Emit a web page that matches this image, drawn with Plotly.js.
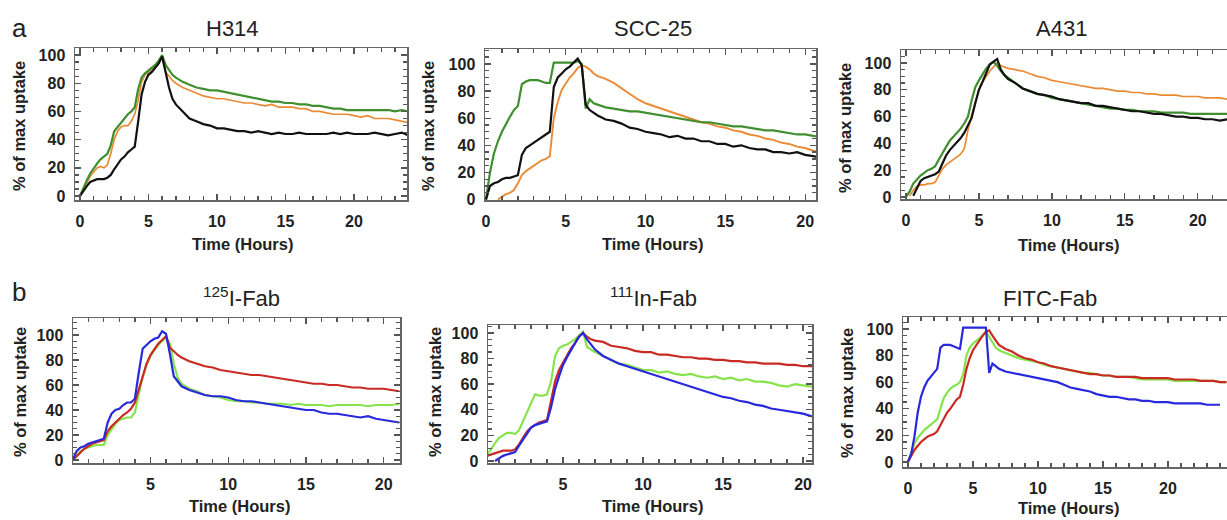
<!DOCTYPE html>
<html>
<head>
<meta charset="utf-8">
<script src="https://cdn.plot.ly/plotly-3.0.1.min.js"></script>
<style>html,body{margin:0;padding:0;background:#fff}#chart{width:1227px;height:520px}</style>
</head>
<body>
<div id="chart"></div>
<script>
// ---------- time grids (hours) ----------
const tH314 = [0,0.25,0.5,0.75,1,1.25,1.5,1.75,2,2.25,2.5,2.75,3,3.25,3.5,3.75,4,4.25,4.5,4.75,5,5.25,5.5,5.75,6,6.25,6.5,6.75,7,
  7.5,8,8.5,9,9.5,10,10.5,11,11.5,12,12.5,13,13.5,14,14.5,15,15.5,16,16.5,17,17.5,18,18.5,19,19.5,20,20.5,21,21.5,22,22.5,23,23.5,24];
const tSCC = [0,0.25,0.5,0.75,1,1.25,1.5,1.75,2,2.25,2.5,2.75,3,3.25,3.5,3.75,4,4.25,4.5,4.75,5,5.25,5.5,5.75,6,6.25,6.5,6.75,7,
  7.5,8,8.5,9,9.5,10,10.5,11,11.5,12,12.5,13,13.5,14,14.5,15,15.5,16,16.5,17,17.5,18,18.5,19,19.5,20,20.5,21];
const tA431 = [0,0.25,0.5,0.75,1,1.25,1.5,1.75,2,2.25,2.5,2.75,3,3.25,3.5,3.75,4,4.25,4.5,4.75,5,5.25,5.5,5.75,6,6.25,6.5,6.75,7,
  7.5,8,8.5,9,9.5,10,10.5,11,11.5,12,12.5,13,13.5,14,14.5,15,15.5,16,16.5,17,17.5,18,18.5,19,19.5,20,20.5,21,21.5,22,22.5];
const tI125 = [0,0.25,0.5,0.75,1,1.25,1.5,1.75,2,2.25,2.5,2.75,3,3.25,3.5,3.75,4,4.25,4.5,4.75,5,5.25,5.5,5.75,6,6.25,6.5,6.75,7,
  7.5,8,8.5,9,9.5,10,10.5,11,11.5,12,12.5,13,13.5,14,14.5,15,15.5,16,16.5,17,17.5,18,18.5,19,19.5,20,20.5,21];
const tIn111 = [0,0.25,0.5,0.75,1,1.25,1.5,1.75,2,2.25,2.5,2.75,3,3.25,3.5,3.75,4,4.25,4.5,4.75,5,5.25,5.5,5.75,6,6.25,6.5,6.75,7,
  7.5,8,8.5,9,9.5,10,10.5,11,11.5,12,12.5,13,13.5,14,14.5,15,15.5,16,16.5,17,17.5,18,18.5,19,19.5,20,20.5,21];
const tFITC = [0,0.25,0.5,0.75,1,1.25,1.5,1.75,2,2.25,2.5,2.75,3,3.25,3.5,3.75,4,4.25,4.5,4.75,5,5.25,5.5,5.75,6,6.25,6.5,6.75,7,
  7.5,8,8.5,9,9.5,10,10.5,11,11.5,12,12.5,13,13.5,14,14.5,15,15.5,16,16.5,17,17.5,18,18.5,19,19.5,20,20.5,21,21.5,22,22.5,23,23.5,24,24.5];

// ---------- panel a: H314 ----------
const h314Orange = [0,5,9,14,17,20,21,20,22,30,40,46,49,50,50,53,58,68,81,86,88,90,93,96,99,88,85,82,80,
  77,75,73,71,70,69,69,68,67,66, 66,65,64,65,63,63,63,62,62,60, 60,59,58,58,58,57,56,57,55,55, 55,54,53,52];
const h314Green = [0,6,11,16,20,23,26,28,30,36,46,49,52,55,58,60,63,76,84,87,89,91,93,96,100,93,89,86,84,
  81,79,77,76,75,75,74,73,72,71, 70,69,68,67,67,66,66,65,65,64, 64,63,62,62,61,61,61,61,61,61, 61,60,61,60];
const h314Black = [0,4,7,10,11,12,12,12,13,15,19,23,26,28,31,33,35,53,72,81,86,88,91,94,99,88,77,69,65,
  60,55,53,51,50,48,48,47,46,46, 45,46,45,44,45,44,44,45,44,44, 44,44,45,44,45,44,44,44,45,44, 43,44,45,43];

// ---------- panel a: SCC-25 ----------
const sccOrange = [null,null,null,0,2,4,5,7,12,18,21,23,25,27,29,30,32,60,72,81,86,90,93,97,99,98,96,93,91,
  89,86,82,78,74,71,69,67,65,63, 61,59,57,56,54,53,51,50,48,47, 45,44,42,41,39,38,36,35];
const sccGreen = [0,20,34,43,50,56,61,66,69,85,87,88,88,88,87,86,86,101,101,101,101,101,101,102,100,67,74,71,70,
  68,67,66,65,65,64,63,62,61,60, 59,58,57,57,56,55,54,54,53,52, 51,51,50,49,48,48,47,46];
const sccBlack = [0,10,12,13,15,16,16,17,18,33,38,40,42,44,46,48,50,83,90,93,96,98,101,104,99,70,66,64,62,
  59,58,56,53,52,50,49,48,46,47, 45,45,43,43,41,41,39,40,38,37, 37,35,35,34,35,33,32,31];

// ---------- panel a: A431 ----------
const a431Orange = [null,1,5,8,9,9,10,10,11,16,21,24,26,28,30,32,36,50,61,71,80,86,90,94,97,100,98,97,96,
  95,94,92,90,89,87,86,85,84,83, 82,81,81,80,79,79,78,78,77,77, 76,76,76,75,75,75,74,74,74,73, 73];
const a431Green = [0,4,10,13,16,18,20,21,23,28,33,38,42,45,48,51,55,60,72,82,87,92,96,99,101,98,94,91,89,
  85,81,79,77,76,74,73,72,71,70, 69,68,67,66,66,65,65,64,64,64, 63,63,63,63,62,62,62,62,62,62, 62];
const a431Black = [null,null,1,7,12,14,15,16,17,19,25,31,35,38,41,44,48,53,59,70,80,86,92,99,101,103,95,91,88,
  85,81,79,77,76,75,73,72,71,70, 70,68,68,67,66,65,64,64,63,62, 62,61,60,60,59,59,58,58,57,58, 57];

// ---------- panel b: 125I-Fab ----------
const i125Green = [0,3,7,9,10,11,12,12,12,20,25,29,32,33,34,34,38,53,66,76,83,88,92,95,98,93,77,66,61,
  57,55,52,51,50,48,47,47,46,46, 45,45,45,44,45,44,44,44,43,44, 44,44,44,43,44,44,44,45];
const i125Red = [0,3,6,9,11,13,14,15,16,23,27,30,33,36,38,41,46,56,68,77,84,89,93,96,99,90,87,84,82,
  79,77,75,74,72,71,70,69,68,68, 67,66,65,64,63,62,61,61,60,60, 59,58,58,57,57,57,56,55];
const i125Blue = [0,7,10,11,13,14,15,16,17,30,37,40,41,44,46,46,49,70,89,92,95,97,98,103,101,85,67,63,59,
  56,54,52,51,51,50,48,47,47,46, 45,44,43,42,41,40,40,38,37,37, 36,35,34,35,33,32,31,30];

// ---------- panel b: 111In-Fab ----------
const in111Green = [null,5,9,14,18,20,22,22,21,24,31,37,45,52,51,51,52,62,82,88,90,91,93,95,98,101,89,87,85,
  82,79,76,75,73,71,71,69,70,68, 67,68,66,65,66,64,65,63,64,62, 62,61,59,58,60,59,58,59];
const in111Red = [null,4,5,6,7,8,8,8,9,13,18,23,26,28,30,31,32,47,62,71,77,83,88,92,97,100,97,95,94,
  93,90,89,88,86,85,85,83,83,82, 81,81,80,80,79,79,78,78,77,77, 76,76,76,75,75,74,74,74];
const in111Blue = [null,null,null,0,2,4,5,6,7,12,17,22,26,28,29,30,31,42,56,66,75,81,87,92,97,100,95,91,87,
  82,79,76,74,72,70,68,66,64,62, 60,58,56,54,52,50,49,47,46,44, 43,41,40,39,38,37,35,34];

// ---------- panel b: FITC-Fab ----------
const fitcGreen = [0,7,14,18,21,24,26,28,30,32,40,48,52,55,57,58,60,66,80,86,89,91,93,95,98,94,90,86,84,
  82,80,78,77,76,75,73,72,71,70, 69,68,67,67,66,65,65,64,64,64, 63,62,62,62,62,62,61,61,61,61, 61,61,61,60,60];
const fitcRed = [0,5,9,12,15,17,19,20,21,23,28,33,37,40,44,47,49,58,70,78,84,88,92,95,98,99,95,91,88,
  85,83,80,78,77,75,74,72,71,70, 69,68,67,66,66,65,65,64,64,64, 64,63,63,63,63,63,62,62,62,62, 61,61,61,60,60];
const fitcBlue = [0,6,19,37,49,56,61,64,67,70,86,88,88,88,87,86,85,101,101,101,101,101,101,101,101,67,74,72,70,
  68,67,66,65,64,63,62,61,60,58, 56,55,54,53,51,50,49,49,48,47, 47,46,46,45,45,45,44,44,44,44, 44,43,43,43,null];

// ---------- labels ----------
const panelTitles = ['H314','SCC-25','A431','<sup>125</sup>I-Fab','<sup>111</sup>In-Fab','FITC-Fab'];
const rowLetters = ['a','b'];
const xTitle = 'Time (Hours)';
const yTitle = '% of max uptake';

// ---------- styles ----------
const C = {green:'#3f8f2f', orange:'#ea8a34', black:'#111111', red:'#c92a24', lgreen:'#86e44a', blue:'#2828dc'};
const FONT = '"Liberation Sans", Arial, sans-serif';
const W = 1227, H = 520;

function line(x, y, color, ax, width) {
  return {x:x, y:y, type:'scatter', mode:'lines', xaxis:'x'+ax, yaxis:'y'+ax,
          line:{color:color, width:width||2.2}, connectgaps:false, hoverinfo:'skip', showlegend:false};
}

const traces = [
  line(tH314, h314Orange, C.orange, '', 1.7), line(tH314, h314Green, C.green, ''), line(tH314, h314Black, C.black, ''),
  line(tSCC, sccOrange, C.orange, '2', 1.9), line(tSCC, sccGreen, C.green, '2'), line(tSCC, sccBlack, C.black, '2'),
  line(tA431, a431Orange, C.orange, '3', 1.7), line(tA431, a431Green, C.green, '3'), line(tA431, a431Black, C.black, '3'),
  line(tI125, i125Green, C.lgreen, '4'), line(tI125, i125Red, C.red, '4'), line(tI125, i125Blue, C.blue, '4'),
  line(tIn111, in111Green, C.lgreen, '5'), line(tIn111, in111Red, C.red, '5'), line(tIn111, in111Blue, C.blue, '5'),
  line(tFITC, fitcGreen, C.lgreen, '6'), line(tFITC, fitcRed, C.red, '6'), line(tFITC, fitcBlue, C.blue, '6')
];

// plot boxes in pixels: [left, right, top, bottom], with axis ranges
const boxes = [
  {px:[75,407,48,200],  xr:[-0.36,23.87], yr:[-2.8,105], ymirror:'ticks'},
  {px:[485,816,49,200], xr:[-0.06,20.68], yr:[-0.3,111], ymirror:'ticks'},
  {px:[901,1227,50,199],xr:[-0.34,22.0],  yr:[-1.5,109.7], ymirror:false},
  {px:[73,400,318,463], xr:[0.02,21.05],  yr:[-2.4,113.6], ymirror:'ticks'},
  {px:[488,812,325,463],xr:[0.31,20.56],  yr:[-1.6,106.2], ymirror:'ticks'},
  {px:[903,1227,317,467],xr:[-0.38,24.54],yr:[-3.8,109], ymirror:false}
];

const layout = {
  width:W, height:H, margin:{l:0,r:0,t:0,b:0}, paper_bgcolor:'#fff', plot_bgcolor:'#fff',
  font:{family:FONT, color:'#222'}, showlegend:false, annotations:[]
};

boxes.forEach((b, i) => {
  const k = i === 0 ? '' : String(i+1);
  const [l, r, t, bt] = b.px;
  const common = {showline:true, ticks:'inside', ticklen:6, tickcolor:'#555', showgrid:false, zeroline:false,
                  linecolor:'#666', linewidth:1.5, tickwidth:1.3, fixedrange:true,
                  tickfont:{family:FONT, size:16, color:'#222', weight:700}};
  const xa = Object.assign({}, common, {domain:[l/W, Math.min(1, r/W)], range:b.xr, anchor:'y'+k, mirror:'ticks',
                  tickmode:'linear', tick0:0, dtick:5, ticklabelstandoff:6,
                  minor:{ticks:'inside', dtick:1, ticklen:4, tickcolor:'#555'}});
  const ya = Object.assign({}, common, {domain:[1-bt/H, 1-t/H], range:b.yr, anchor:'x'+k, mirror:b.ymirror,
                  tickmode:'linear', tick0:0, dtick:20, ticklabelstandoff:5,
                  minor:{ticks:'inside', dtick:5, ticklen:4, tickcolor:'#555'}});
  layout['xaxis'+k] = xa;
  layout['yaxis'+k] = ya;
});

function ann(text, x, y, size, weight, angle) {
  return {text:text, x:x/W, y:1-y/H, xref:'paper', yref:'paper', xanchor:'center', yanchor:'middle',
          showarrow:false, textangle:angle||0, font:{family:FONT, size:size, color:'#222', weight:weight||400}};
}
// subplot titles
const titlePos = [[232,28],[653,28],[1061,28],[241,297],[653,297],[1050,298]];
panelTitles.forEach((tx, i) => layout.annotations.push(ann(tx, titlePos[i][0], titlePos[i][1], 22)));
// row letters
layout.annotations.push(ann(rowLetters[0], 19, 28, 26));
layout.annotations.push(ann(rowLetters[1], 19, 292, 26));
// x titles
const xtPos = [[242,244],[652,244],[1068,245],[239,506],[652,506],[1068,508]];
xtPos.forEach(p => layout.annotations.push(ann(xTitle, p[0], p[1], 16.5, 700)));
// y titles
const ytPos = [[19,126],[428,126],[845,128],[20,392],[435,392],[847,393]];
ytPos.forEach(p => layout.annotations.push(ann(yTitle, p[0], p[1], 16.5, 700, -90)));

Plotly.newPlot('chart', traces, layout, {staticPlot:true, displayModeBar:false});
</script>
</body>
</html>
